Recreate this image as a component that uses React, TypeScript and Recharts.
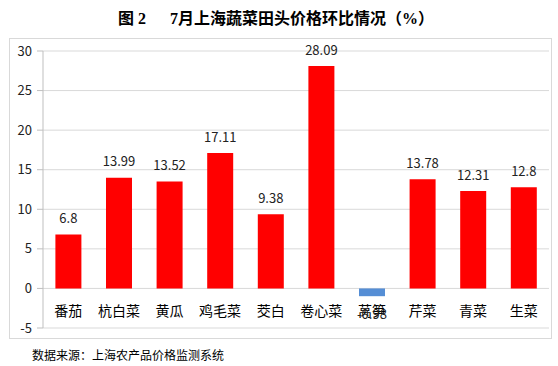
import React from "react";
import { BarChart, Bar, XAxis, YAxis, CartesianGrid, Cell, LabelList } from "recharts";

const categories = ["番茄", "杭白菜", "黄瓜", "鸡毛菜", "茭白", "卷心菜", "莴笋", "芹菜", "青菜", "生菜"];
const values = [6.8, 13.99, 13.52, 17.11, 9.38, 28.09, -0.98, 13.78, 12.31, 12.8];
const yTicks = [-5, 0, 5, 10, 15, 20, 25, 30];
const titleLeft = "图 2";
const titleRight = "7月上海蔬菜田头价格环比情况（%）";
const source = "数据来源：上海农产品价格监测系统";

const data = categories.map((name, i) => ({ name, value: values[i] }));

const FONT = "'Noto Sans CJK SC', 'Noto Sans', sans-serif";
const TITLE_FONT = "'Liberation Serif', 'Noto Sans CJK SC', serif";

const CatTick = (props: any) => {
  const { x, y, payload } = props;
  return (
    <text x={x} y={y} dy={-26} textAnchor="middle" fontSize={14} fill="#000" fontFamily={FONT} dominantBaseline="central">
      {payload.value}
    </text>
  );
};

const ValueLabel = (props: any) => {
  const { x, y, width, height, value } = props;
  const neg = value < 0;
  const ty = neg ? Math.max(y, y + height) + 17 : Math.min(y, y + height) - 17;
  return (
    <text x={x + width / 2} y={ty} textAnchor="middle" fontSize={13} fill="#222" fontFamily={FONT} dominantBaseline="central">
      {value}
    </text>
  );
};

export default function App() {
  return (
    <div style={{ position: "absolute", left: 0, top: 0, width: 558, height: 366, background: "#fff", fontFamily: FONT }}>
      <div style={{ position: "absolute", left: 0, top: 5, width: 552, textAlign: "center", fontSize: 16, fontWeight: "bold", color: "#000", whiteSpace: "pre", fontFamily: TITLE_FONT }}>
        <span>{titleLeft}</span>
        <span style={{ marginLeft: 24 }}>{titleRight}</span>
      </div>
      <div style={{ position: "absolute", left: 9, top: 38, width: 541, height: 299, border: "1px solid #D9D9D9" }} />
      <div style={{ position: "absolute", left: 32, top: 346, fontSize: 12, color: "#000" }}>{source}</div>
      <div style={{ position: "absolute", left: 0, top: 0 }}>
        <BarChart width={558} height={366} data={data} margin={{ top: 51, right: 9, bottom: 8, left: 0 }} barCategoryGap="24.5%">
          <CartesianGrid vertical={false} stroke="#D9D9D9" />
          <XAxis dataKey="name" height={30} axisLine={false} tickLine={false} tick={<CatTick />} interval={0} />
          <YAxis
            width={43}
            domain={[-5, 30]}
            ticks={yTicks}
            interval={0}
            axisLine={{ stroke: "#BFBFBF" }}
            tickLine={{ stroke: "#BFBFBF" }}
            tickSize={6}
            tickMargin={5}
            tick={{ fontSize: 13, fill: "#222", fontFamily: FONT }}
          />
          <Bar dataKey="value" isAnimationActive={false}>
            {data.map((d, i) => (
              <Cell key={i} fill={d.value < 0 ? "#558ED5" : "#FF0000"} />
            ))}
            <LabelList dataKey="value" content={<ValueLabel />} />
          </Bar>
        </BarChart>
      </div>
    </div>
  );
}
